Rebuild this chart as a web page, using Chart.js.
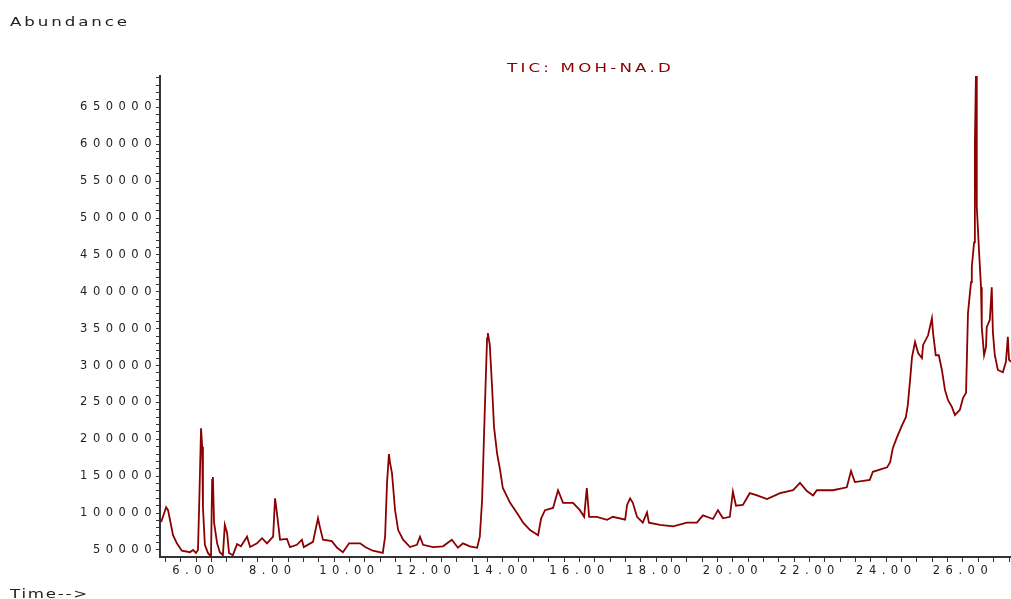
<!DOCTYPE html>
<html>
<head>
<meta charset="utf-8">
<script src="https://cdn.jsdelivr.net/npm/chart.js@4"></script>
<style>
  body { margin: 0; background: #fff; }
  #wrap { position: relative; width: 1011px; height: 599px; }
  .lbl { position: absolute; display: inline-block; font-family: 'DejaVu Sans'; font-size: 11.5px; color: #222;
         white-space: nowrap; line-height: 14px; transform: scaleX(1.45); transform-origin: 0 50%; }
  #abund { left: 10px; top: 15px; letter-spacing: 2px; }
  #time { left: 10px; top: 587px; letter-spacing: 1.2px; }
  #title { left: 507px; top: 61px; letter-spacing: 2.2px; color: #8b0000; }
</style>
</head>
<body>
<div id="wrap">
  <canvas id="tic-chart" width="1011" height="599"></canvas>
  <div class="lbl" id="abund">Abundance</div>
  <div class="lbl" id="time">Time--&gt;</div>
  <div class="lbl" id="title">TIC: MOH-NA.D</div>
</div>
<script>
// retention time (min)
const times = [5.09, 5.22, 5.27, 5.32, 5.40, 5.50, 5.63, 5.84, 5.92, 6.00,
  6.05, 6.08, 6.13, 6.16, 6.18, 6.23, 6.31, 6.39, 6.42, 6.44,
  6.47, 6.55, 6.62, 6.70, 6.75, 6.81, 6.86, 6.96, 7.07, 7.17,
  7.33, 7.41, 7.59, 7.72, 7.85, 8.01, 8.06, 8.11, 8.19, 8.37,
  8.45, 8.63, 8.76, 8.81, 9.05, 9.18, 9.23, 9.31, 9.54, 9.68,
  9.83, 9.99, 10.28, 10.41, 10.61, 10.87, 10.93, 10.98, 11.03, 11.06,
  11.11, 11.19, 11.27, 11.40, 11.58, 11.76, 11.84, 11.92, 12.18, 12.44,
  12.67, 12.83, 12.96, 13.14, 13.33, 13.40, 13.46, 13.51, 13.56, 13.59,
  13.61, 13.66, 13.72, 13.77, 13.85, 13.93, 14.00, 14.19, 14.37, 14.53,
  14.71, 14.92, 15.00, 15.10, 15.31, 15.44, 15.57, 15.83, 16.01, 16.12,
  16.19, 16.25, 16.45, 16.72, 16.87, 17.19, 17.24, 17.32, 17.39, 17.50,
  17.65, 17.76, 17.81, 18.10, 18.44, 18.80, 19.06, 19.22, 19.48, 19.61,
  19.74, 19.92, 20.00, 20.08, 20.26, 20.44, 20.63, 20.89, 21.23, 21.57,
  21.75, 21.93, 22.09, 22.19, 22.61, 22.97, 23.08, 23.18, 23.57, 23.65,
  24.02, 24.10, 24.17, 24.28, 24.41, 24.51, 24.56, 24.62, 24.67, 24.75,
  24.83, 24.93, 24.96, 25.09, 25.19, 25.22, 25.29, 25.37, 25.45, 25.53,
  25.61, 25.71, 25.79, 25.92, 26.00, 26.08, 26.13, 26.21, 26.23, 26.29,
  26.31, 26.34, 26.36, 26.42, 26.47, 26.49, 26.55, 26.60, 26.62, 26.70,
  26.75, 26.78, 26.83, 26.91, 27.04, 27.12, 27.17, 27.20, 27.25];

// total ion current
const abundance = [88000, 108000, 104000, 91000, 70000, 59000, 49000, 47000, 50000, 46000,
  50000, 107000, 215000, 190000, 108000, 57000, 46000, 41000, 145000, 149000,
  87000, 59000, 47000, 43000, 84000, 73000, 46000, 43000, 58000, 55000,
  68000, 54000, 59000, 66000, 59000, 68000, 120000, 100000, 64000, 65000,
  54000, 57000, 64000, 54000, 61000, 93000, 81000, 64000, 62000, 53000,
  47000, 59000, 59000, 54000, 49000, 46000, 68000, 141000, 180000, 168000,
  154000, 104000, 77000, 64000, 54000, 57000, 68000, 57000, 54000, 55000,
  64000, 53000, 59000, 55000, 53000, 68000, 118000, 206000, 290000, 337000,
  344000, 328000, 271000, 217000, 181000, 158000, 134000, 114000, 100000, 87000,
  77000, 70000, 93000, 104000, 107000, 131000, 114000, 114000, 104000, 95000,
  134000, 95000, 95000, 91000, 95000, 91000, 111000, 120000, 114000, 95000,
  87000, 101000, 87000, 84000, 82000, 87000, 87000, 97000, 92000, 104000,
  93000, 95000, 129000, 110000, 111000, 127000, 124000, 119000, 127000, 131000,
  141000, 130000, 124000, 131000, 131000, 135000, 157000, 142000, 145000, 156000,
  162000, 169000, 188000, 203000, 219000, 230000, 246000, 280000, 311000, 332000,
  317000, 310000, 328000, 341000, 364000, 344000, 314000, 314000, 294000, 267000,
  253000, 244000, 233000, 240000, 256000, 263000, 371000, 413000, 434000, 467000,
  599000, 700000, 515000, 454000, 406000, 352000, 314000, 325000, 352000, 362000,
  406000, 345000, 314000, 294000, 291000, 305000, 339000, 308000, 305000];

const timeMin = 5.06;
const timeMax = 27.25;
const timeStep = 0.4;
const abundMin = 40500;
const abundMax = 692500;
const abundFirstTick = 50000;
const abundStep = 10000;
const abundLabelEvery = 50000;

// wide spacing of the old instrument font
const spacingPlugin = {
  id: 'spacing',
  beforeLayout(chart) { chart.ctx.letterSpacing = '5.5px'; },
  beforeDraw(chart) { chart.ctx.letterSpacing = '5.5px'; }
};

function onEvery(v, n) {
  return Math.abs(v / n - Math.round(v / n)) < 1e-6;
}

function drawChart() {
  Chart.defaults.font.family = 'DejaVu Sans';
  Chart.defaults.font.size = 11.5;
  Chart.defaults.color = '#222';

  new Chart(document.getElementById('tic-chart'), {
    type: 'line',
    data: {
      datasets: [{
        data: times.map((t, i) => ({ x: t, y: abundance[i] })),
        borderColor: '#8b0000',
        borderWidth: 1.8,
        pointRadius: 0,
        tension: 0
      }]
    },
    options: {
      responsive: false,
      animation: false,
      layout: { padding: { top: 76, left: 0, right: 0, bottom: 0 } },
      plugins: {
        legend: { display: false },
        tooltip: { enabled: false }
      },
      scales: {
        x: {
          type: 'linear',
          min: timeMin,
          max: timeMax,
          grid: { drawOnChartArea: false, tickLength: 5, color: '#333' },
          border: { color: '#333', width: 2 },
          ticks: {
            stepSize: timeStep,
            includeBounds: false,
            autoSkip: false,
            maxRotation: 0,
            padding: 2,
            callback: v => onEvery(v, 2) ? v.toFixed(2) : ''
          },
          afterFit(scale) { scale.height = 42; }
        },
        y: {
          min: abundMin,
          max: abundMax,
          grid: { drawOnChartArea: false, tickLength: 4, color: '#333' },
          border: { color: '#333', width: 2 },
          ticks: {
            autoSkip: false,
            padding: -1,
            callback: v => onEvery(v, abundLabelEvery) ? String(Math.round(v)) : ''
          },
          // minor ticks every 10000 from the first round value
          afterBuildTicks(scale) {
            const ticks = [];
            for (let v = abundFirstTick; v <= scale.max; v += abundStep) ticks.push({ value: v });
            scale.ticks = ticks;
          },
          afterFit(scale) { scale.width = 160; }
        }
      }
    },
    plugins: [spacingPlugin]
  });
}

document.addEventListener('DOMContentLoaded', () => {
  drawChart();
});
</script>
</body>
</html>
